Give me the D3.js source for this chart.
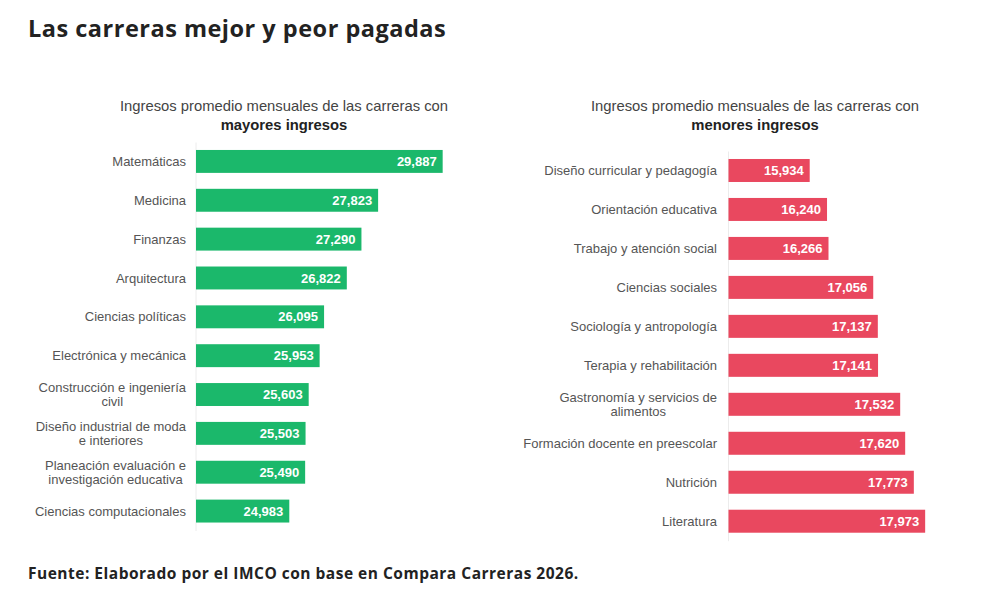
<!DOCTYPE html>
<html>
<head>
<meta charset="utf-8">
<script src="https://cdn.jsdelivr.net/npm/d3@7"></script>
<style>
  body { margin: 0; background: #fff; }
  svg { display: block; }
</style>
</head>
<body>
<div id="chart"></div>
<script>
// carreras con mayores ingresos
var topCats = ["Matemáticas", "Medicina", "Finanzas", "Arquitectura", "Ciencias políticas",
  "Electrónica y mecánica", "Construcción e ingeniería\ncivil", "Diseño industrial de moda\ne interiores",
  "Planeación evaluación e\ninvestigación educativa", "Ciencias computacionales"];
var topVals = [29887, 27823, 27290, 26822, 26095, 25953, 25603, 25503, 25490, 24983];

// carreras con menores ingresos
var lowCats = ["Diseño curricular y pedagogía", "Orientación educativa", "Trabajo y atención social",
  "Ciencias sociales", "Sociología y antropología", "Terapia y rehabilitación",
  "Gastronomía y servicios de\nalimentos", "Formación docente en preescolar", "Nutrición", "Literatura"];
var lowVals = [15934, 16240, 16266, 17056, 17137, 17141, 17532, 17620, 17773, 17973];

var W = 992, H = 613;
var fmt = d3.format(",");

var svg = d3.select("#chart").append("svg")
  .attr("width", W)
  .attr("height", H);

svg.append("text")
  .attr("x", 28)
  .attr("y", 37)
  .attr("font-family", "Open Sans")
  .attr("font-weight", 700)
  .attr("font-size", 23.5)
  .attr("letter-spacing", 0.5)
  .attr("fill", "#222")
  .text("Las carreras mejor y peor pagadas");

svg.append("text")
  .attr("x", 28)
  .attr("y", 579)
  .attr("font-family", "Open Sans")
  .attr("font-weight", 700)
  .attr("font-size", 15.5)
  .attr("letter-spacing", 0.5)
  .attr("fill", "#222")
  .text("Fuente: Elaborado por el IMCO con base en Compara Carreras 2026.");

function barChart(cats, vals, opt) {
  var g = svg.append("g");

  var x = d3.scaleLinear().domain(opt.domain).range(opt.xRange);
  var y = d3.scaleBand().domain(cats).range(opt.yRange)
    .paddingInner(0.41).paddingOuter(0.205);

  // subtitulo
  var sub = g.append("text")
    .attr("x", opt.subX)
    .attr("y", opt.subY)
    .attr("text-anchor", "middle")
    .attr("font-family", "Liberation Sans")
    .attr("font-size", 14.8)
    .attr("fill", "#444");
  sub.append("tspan").text("Ingresos promedio mensuales de las carreras con");
  sub.append("tspan")
    .attr("x", opt.subX)
    .attr("dy", 19)
    .attr("font-weight", 700)
    .attr("fill", "#222")
    .text(opt.bold);

  // eje
  var axis = g.append("g")
    .attr("transform", "translate(" + (opt.xRange[0] - 0.5) + ",0)")
    .call(d3.axisLeft(y).tickSize(0).tickFormat(""));
  axis.select(".domain").attr("stroke", "#ececec");

  g.selectAll("rect.bar")
    .data(cats)
    .enter()
    .append("rect")
    .attr("class", "bar")
    .attr("x", x(opt.domain[0]))
    .attr("y", function (d) { return y(d); })
    .attr("width", function (d, i) { return x(vals[i]) - x(opt.domain[0]); })
    .attr("height", y.bandwidth())
    .attr("fill", opt.color);

  g.selectAll("text.val")
    .data(cats)
    .enter()
    .append("text")
    .attr("class", "val")
    .attr("x", function (d, i) { return x(vals[i]) - 6; })
    .attr("y", function (d) { return y(d) + y.bandwidth() / 2; })
    .attr("dy", "0.35em")
    .attr("text-anchor", "end")
    .attr("font-family", "Liberation Sans")
    .attr("font-weight", 700)
    .attr("font-size", 13)
    .attr("fill", "#fff")
    .text(function (d, i) { return fmt(vals[i]); });

  // etiquetas, centradas linea por linea si hay salto
  var labels = g.selectAll("text.cat")
    .data(cats)
    .enter()
    .append("text")
    .attr("class", "cat")
    .attr("font-family", "Liberation Sans")
    .attr("font-size", 13)
    .attr("fill", "#555");

  labels.each(function (d) {
    var t = d3.select(this);
    var lines = d.split("\n");
    var cy = y(d) + y.bandwidth() / 2;
    var lh = 14.5;
    lines.forEach(function (l, j) {
      t.append("tspan")
        .attr("y", cy + (j - (lines.length - 1) / 2) * lh)
        .attr("dy", "0.35em")
        .text(l);
    });
    var maxW = 0;
    t.selectAll("tspan").each(function () {
      maxW = Math.max(maxW, this.getComputedTextLength());
    });
    if (lines.length > 1) {
      t.attr("text-anchor", "middle");
      t.selectAll("tspan").attr("x", opt.labelX - maxW / 2);
    } else {
      t.attr("text-anchor", "end");
      t.selectAll("tspan").attr("x", opt.labelX);
    }
  });
}

barChart(topCats, topVals, {
  domain: [22000, 30000],
  xRange: [196, 446.2],
  yRange: [142, 530.5],
  color: "#1bb86b",
  subX: 284,
  subY: 111,
  bold: "mayores ingresos",
  labelX: 186
});

barChart(lowCats, lowVals, {
  domain: [14500, 18500],
  xRange: [728.5, 955],
  yRange: [151, 540.7],
  color: "#e9485f",
  subX: 755,
  subY: 111,
  bold: "menores ingresos",
  labelX: 717
});
</script>
</body>
</html>
